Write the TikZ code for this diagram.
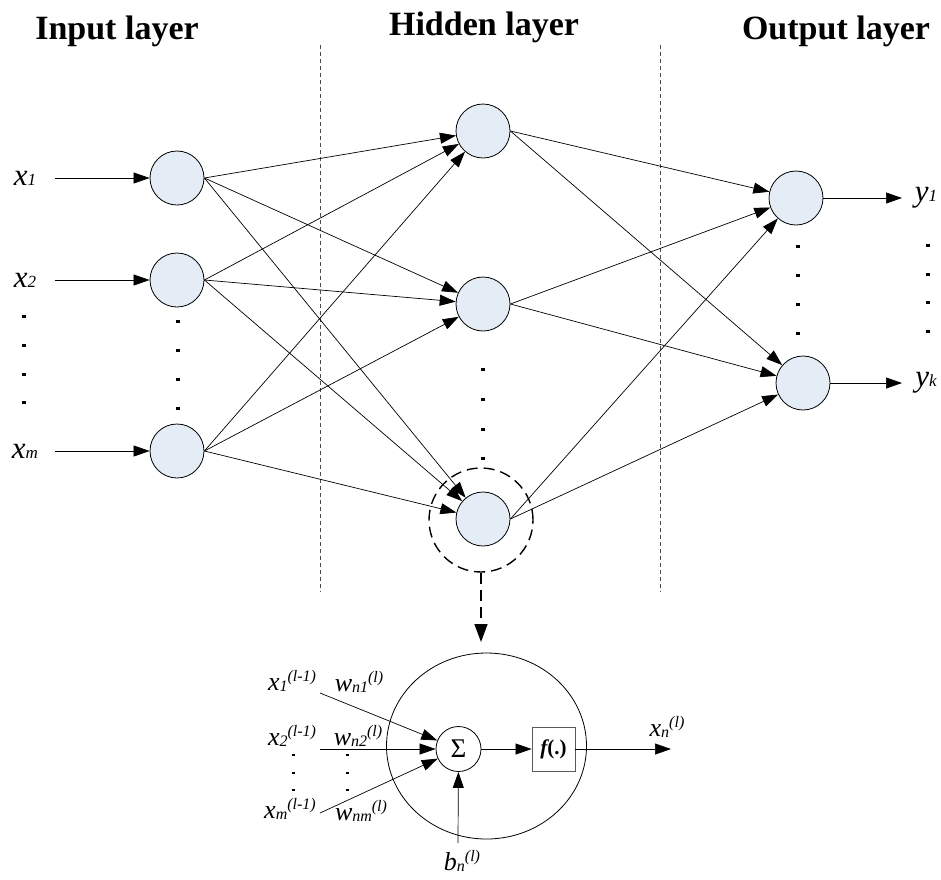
\documentclass[tikz,border=0pt]{standalone}
\usepackage{fontspec}
\setmainfont{Liberation Serif}
\usetikzlibrary{arrows.meta,shapes.geometric}
\definecolor{nfill}{RGB}{228,236,246}
\definecolor{boxgray}{RGB}{90,90,90}
\newcommand\vlab[2]{{\fontsize{31}{31}\selectfont\itshape #1\fontsize{17}{17}\selectfont #2}}
\newcommand\ssl[3]{{\fontsize{26}{26}\selectfont\itshape #1}{\fontsize{16}{16}\selectfont\itshape\raisebox{-1pt}{#2}\raisebox{9pt}{#3}}}
\begin{document}
\begin{tikzpicture}[x=1pt,y=-1pt,
  neuron/.style={circle,draw,fill=nfill,minimum size=54pt,inner sep=0pt,line width=0.8pt},
  arr/.style={-{Triangle[length=16pt,width=11pt]},line width=0.7pt},
  dotc/.style={rectangle,fill,inner sep=0pt,minimum width=4.5pt,minimum height=3pt},
  vsep/.style={draw=black!70,line width=0.6pt,dash pattern=on 4pt off 3pt},
  head/.style={font=\fontsize{34}{34}\selectfont\bfseries},
  bigdash/.style={line width=1.4pt,dash pattern=on 11pt off 6pt}
]
\useasboundingbox (0,0) rectangle (941,879);

% headings
\node[head] (tin) at (117,31) {Input layer};
\node[head] (thid) at (484,27) {Hidden layer};
\node[head] (tout) at (836,31) {Output layer};

% separators
\coordinate (s1a) at (320,45); \coordinate (s1b) at (320,592);
\coordinate (s2a) at (660,45); \coordinate (s2b) at (660,592);
\draw[vsep] (s1a) -- (s1b);
\draw[vsep] (s2a) -- (s2b);

% neurons
\node[neuron] (i1) at (177,178) {};
\node[neuron] (i2) at (177,280) {};
\node[neuron] (i3) at (177,451) {};
\node[neuron] (h1) at (483,131) {};
\node[neuron] (h2) at (483,304) {};
\node[neuron] (h3) at (483,519) {};
\node[neuron] (o1) at (796,198) {};
\node[neuron] (o2) at (803,383) {};

% input labels and arrows
\node (x1) at (25,178) {\vlab{x}{1}};
\node (x2) at (25,280) {\vlab{x}{2}};
\node (xm) at (25,451) {\vlab{x}{m}};
\coordinate (ax1) at (55,178);
\coordinate (ax2) at (55,280);
\coordinate (axm) at (55,451);
\draw[arr] (ax1) -- (i1);
\draw[arr] (ax2) -- (i2);
\draw[arr] (axm) -- (i3);

% output arrows and labels
\coordinate (ay1) at (902,198);
\coordinate (ayk) at (902,383);
\draw[arr] (o1) -- (ay1);
\draw[arr] (o2) -- (ayk);
\node (y1) at (926,198) {\vlab{y}{1}};
\node (yk) at (926,383) {\vlab{y}{k}};

% connections
\foreach \a in {i1,i2,i3}
  \foreach \b in {h1,h2,h3}
    \draw[arr] (\a.east) -- (\b);
\foreach \a in {h1,h2,h3}
  \foreach \b in {o1,o2}
    \draw[arr] (\a.east) -- (\b);

% dots
\foreach \y [count=\k] in {316,345,374,402} \node[dotc] (dl\k) at (24,\y) {};
\foreach \y [count=\k] in {321,350,379,408} \node[dotc] (di\k) at (178,\y) {};
\foreach \y [count=\k] in {369,399,429,458} \node[dotc] (dh\k) at (483,\y) {};
\foreach \y [count=\k] in {246,275,304,333} \node[dotc] (do\k) at (798,\y) {};
\foreach \y [count=\k] in {245,274,302,331} \node[dotc] (dy\k) at (928,\y) {};

% dashed zoom circle
\node[circle,draw,bigdash,minimum size=104pt,inner sep=0pt] (dc) at (481,520) {};
\coordinate (dz) at (481,642);
\draw[bigdash,-{Triangle[length=18pt,width=13pt]}] (dc.south) -- (dz);

% detail neuron
\node[ellipse,draw,line width=0.8pt,minimum width=200pt,minimum height=186pt,inner sep=0pt] (big) at (486.5,746) {};
\node[circle,draw,line width=0.8pt,minimum size=45pt,inner sep=0pt] (sig) at (458.5,749) {\fontsize{27}{27}\selectfont Σ};
\node[rectangle,draw=boxgray,line width=0.8pt,minimum width=43pt,minimum height=44pt,inner sep=0pt] (fb) at (553.5,749) {\fontsize{21}{21}\selectfont\bfseries\itshape f\upshape(.)};
\coordinate (a1) at (320,693);
\coordinate (a2) at (320,749);
\coordinate (a3) at (320,813);
\coordinate (xo) at (671,749);
\coordinate (bb) at (458,843);
\draw[arr] (a1) -- (sig);
\draw[arr] (a2) -- (sig);
\draw[arr] (a3) -- (sig);
\draw[arr] (sig) -- (fb);
\draw[arr] (fb) -- (xo);
\draw[arr] (bb) -- (sig);

% detail labels
\node (lx1) at (292,681) {\ssl{x}{1}{(l-1)}};
\node (lx2) at (292,736) {\ssl{x}{2}{(l-1)}};
\node (lxm) at (290,809) {\ssl{x}{m}{(l-1)}};
\node (lw1) at (359,682) {\ssl{w}{n1}{(l)}};
\node (lw2) at (358,736) {\ssl{w}{n2}{(l)}};
\node (lwm) at (361,811) {\ssl{w}{nm}{(l)}};
\node (lxn) at (667,727) {\ssl{x}{n}{(l)}};
\node[anchor=south,inner sep=0pt] (lbn) at (462,872) {\ssl{b}{n}{(l)}};
\foreach \y [count=\k] in {755,773,790} {
  \node[dotc,minimum width=3pt,minimum height=1.8pt] (dd\k) at (293,\y) {};
  \node[dotc,minimum width=3pt,minimum height=1.8pt] (de\k) at (347,\y) {};
}
\end{tikzpicture}
\end{document}
